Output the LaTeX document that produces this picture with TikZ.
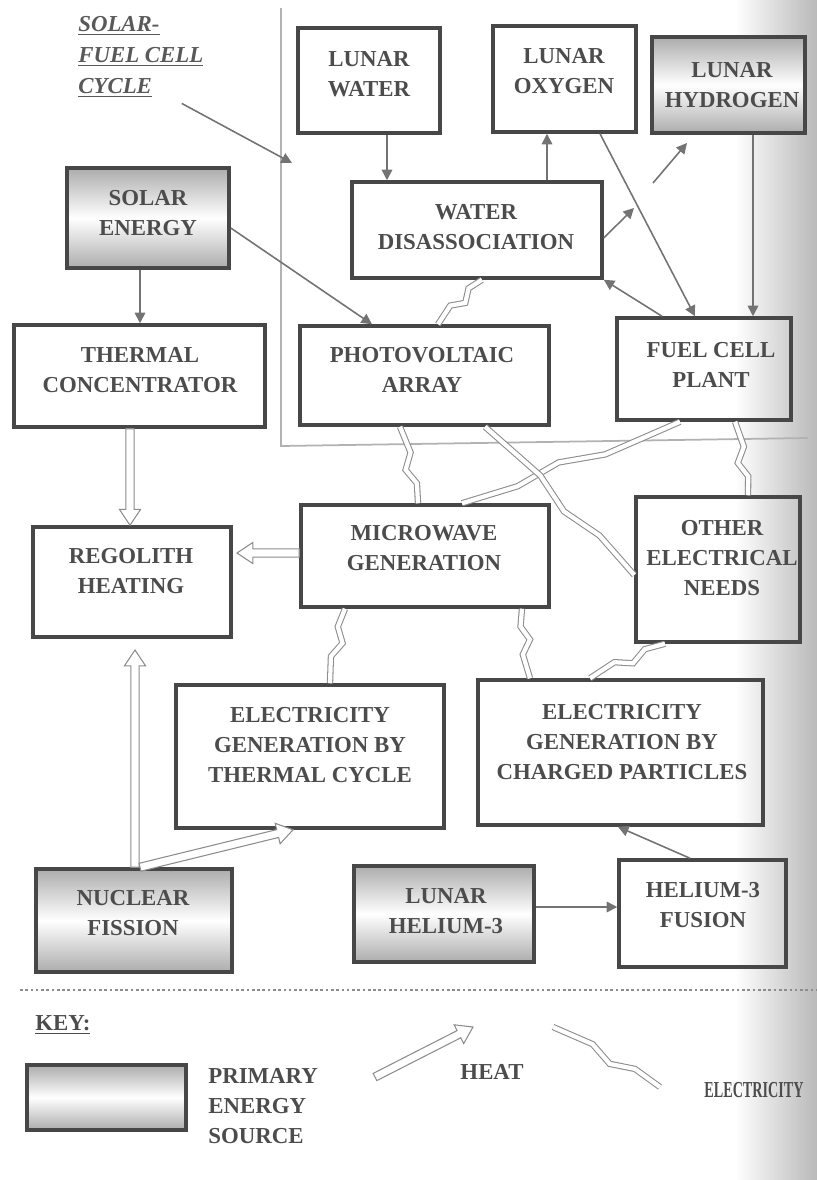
\documentclass[tikz,border=0pt]{standalone}
\usepackage{fontspec}
\setmainfont{Liberation Serif}
\usepackage{graphicx}
\usetikzlibrary{calc, positioning}
\usetikzlibrary{arrows.meta}

\tikzset{
  blk/.style 2 args={draw=black!72, line width=2pt, minimum width=#1*0.02cm, minimum height=#2*0.02cm, inner sep=0pt},
  prim/.style={top color=gray!65, bottom color=gray!65, middle color=white},
  lbl/.style={font=\bfseries\fontsize{13}{17}\selectfont, text=black!70, align=center, inner sep=0pt},
  feed/.style={draw=black!55, line width=0.9pt, -{Triangle[width=6pt,length=6pt]}},
  heat/.style={draw=black!45, fill=white, line width=0.6pt, line join=miter},
  elec/.style={draw=black!45, line width=0.6pt, double=white, double distance=2.4pt},
  bound/.style={draw=black!30, line width=1pt},
}

% outlined heat arrow from #1 to #2
\newcommand{\heatarrow}[2]{%
  \draw[heat] ($(#1)!2.3pt!90:(#2)$)
    -- ($(#2)!9pt!(#1)!2.3pt!-90:(#1)$)
    -- ($(#2)!9pt!(#1)!6pt!-90:(#1)$)
    -- (#2)
    -- ($(#2)!9pt!(#1)!6pt!90:(#1)$)
    -- ($(#2)!9pt!(#1)!2.3pt!90:(#1)$)
    -- ($(#1)!2.3pt!-90:(#2)$) -- cycle;}
% zigzag electricity band from #1 to #2
\newcommand{\elecarrow}[2]{%
  \draw[elec] (#1)
    -- ($(#1)!0.35!(#2)!2.5pt!90:(#2)$)
    -- ($(#1)!0.55!(#2)!2.5pt!-90:(#2)$)
    -- ($(#1)!0.75!(#2)!2pt!90:(#2)$)
    -- (#2);}

\begin{document}
\begin{tikzpicture}[x=0.02cm, y=-0.02cm]
\useasboundingbox (0,0) rectangle (817,1180);

% page shadow
\shade[left color=white, right color=gray!55] (735,0) rectangle (817,1180);

% solar-fuel cell cycle
\draw[bound] (281,8) -- (281,446) -- (808,438);
\node[font=\bfseries\itshape\fontsize{13}{17.6}\selectfont, text=black!65, align=left, inner sep=0pt, anchor=north west] (cyc) at (78,16) {\underline{SOLAR-}\\\underline{FUEL CELL}\\\underline{CYCLE}};
\coordinate (cycTip) at (292,163);
\draw[feed] ($(cyc.south east)+(-22,6)$) -- (cycTip);

% blocks
\node[blk={142}{105}] (water) at (369,80.5) {};
\node[blk={143}{106}] (oxygen) at (564.5,79) {};
\node[blk={153}{96}, prim] (hydrogen) at (728.5,85) {};
\node[blk={250}{96}] (disso) at (477,230) {};
\node[blk={162}{100}, prim] (solar) at (148,218) {};
\node[blk={251}{102}] (thermal) at (139.5,376) {};
\node[blk={249}{99}] (pv) at (424.5,375.5) {};
\node[blk={174}{102}] (fuel) at (704,369) {};
\node[blk={198}{110}] (regolith) at (132,582) {};
\node[blk={248}{102}] (micro) at (425,556) {};
\node[blk={164}{145}] (other) at (718,569.5) {};
\node[blk={268}{143}] (gthermal) at (310,756.5) {};
\node[blk={285}{145}] (gcharged) at (620.5,752.5) {};
\node[blk={196}{103}, prim] (fission) at (134,920.5) {};
\node[blk={180}{96}, prim] (helium) at (444,914) {};
\node[blk={167}{107}] (fusion) at (702.5,913.5) {};

\node[lbl] (waterT) at (369,74) {LUNAR\\WATER};
\node[lbl] (oxygenT) at (564,71) {LUNAR\\OXYGEN};
\node[lbl] (hydrogenT) at (732,85) {LUNAR\\HYDROGEN};
\node[lbl] (dissoT) at (476,227) {WATER\\DISASSOCIATION};
\node[lbl] (solarT) at (148,213) {SOLAR\\ENERGY};
\node[lbl] (thermalT) at (140,370) {THERMAL\\CONCENTRATOR};
\node[lbl] (pvT) at (422,370) {PHOTOVOLTAIC\\ARRAY};
\node[lbl] (fuelT) at (711,365) {FUEL CELL\\PLANT};
\node[lbl] (regolithT) at (131,571) {REGOLITH\\HEATING};
\node[lbl] (microT) at (424,548) {MICROWAVE\\GENERATION};
\node[lbl] (otherT) at (722,558) {OTHER\\ELECTRICAL\\NEEDS};
\node[lbl] (gthermalT) at (310,745) {ELECTRICITY\\GENERATION BY\\THERMAL CYCLE};
\node[lbl] (gchargedT) at (622,742) {ELECTRICITY\\GENERATION BY\\CHARGED PARTICLES};
\node[lbl] (fissionT) at (133,913) {NUCLEAR\\FISSION};
\node[lbl] (heliumT) at (446,911) {LUNAR\\HELIUM-3};
\node[lbl] (fusionT) at (703,905) {HELIUM-3\\FUSION};

% mass flows
\draw[feed] (387,0 |- water.south) -- (387,0 |- disso.north);
\draw[feed] (547,0 |- disso.north) -- (547,0 |- oxygen.south);
\coordinate (h1) at (634,208);
\coordinate (h2) at (653,183);
\coordinate (h3) at (687,143);
\draw[feed] (disso.east |- 0,238) -- (h1);
\draw[feed] (h2) -- (h3);
\draw[feed] (600,0 |- oxygen.south) -- (695,0 |- fuel.north);
\draw[feed] (753,0 |- hydrogen.south) -- (753,0 |- fuel.north);
\draw[feed] (662,0 |- fuel.north) -- (disso.south east);
\draw[feed] (140,0 |- solar.south) -- (140,0 |- thermal.north);
\draw[feed] (solar.east |- 0,228) -- (372,0 |- pv.north);
\draw[feed] (690,0 |- fusion.north) -- (618,0 |- gcharged.south);
\draw[feed] (helium.east |- 0,907) -- (fusion.west |- 0,907);

% heat
\heatarrow{130,0 |- thermal.south}{130,0 |- regolith.north}
\heatarrow{micro.west |- 0,553}{237,553}
\heatarrow{135,0 |- fission.north}{135,650}
\heatarrow{140,0 |- fission.north}{293,0 |- gthermal.south}

% electricity
\elecarrow{438,0 |- pv.north}{482,0 |- disso.south}
\elecarrow{400,0 |- pv.south}{418,0 |- micro.north}
\elecarrow{680,0 |- fuel.south}{462,0 |- micro.north}
\elecarrow{485,0 |- pv.south}{other.west |- 0,575}
\elecarrow{735,0 |- fuel.south}{748,0 |- other.north}
\elecarrow{330,0 |- gthermal.north}{345,0 |- micro.south}
\elecarrow{530,0 |- gcharged.north}{522,0 |- micro.south}
\elecarrow{590,0 |- gcharged.north}{665,0 |- other.south}

% key
\draw[draw=black!45, line width=1.3pt, dash pattern=on 1.5pt off 1.5pt] (20,990) -- (817,990);
\node[lbl, anchor=west] (key) at (35,1025) {\underline{KEY:}};
\node[blk={159}{65}, prim] (keybox) at (106.5,1097.5) {};
\node[lbl, align=left, anchor=west] (keyprim) at (208,1106) {PRIMARY\\ENERGY\\SOURCE};
\coordinate (kh1) at (375,1077);
\coordinate (kh2) at (473,1027);
\heatarrow{kh1}{kh2}
\node[lbl] (heatT) at (492,1072) {HEAT};
\coordinate (ke1) at (553,1027);
\coordinate (ke2) at (660,1087);
\elecarrow{ke1}{ke2}
\node[lbl] (elecT) at (754,1090) {\scalebox{0.62}[1]{ELECTRICITY}};
\end{tikzpicture}
\end{document}
